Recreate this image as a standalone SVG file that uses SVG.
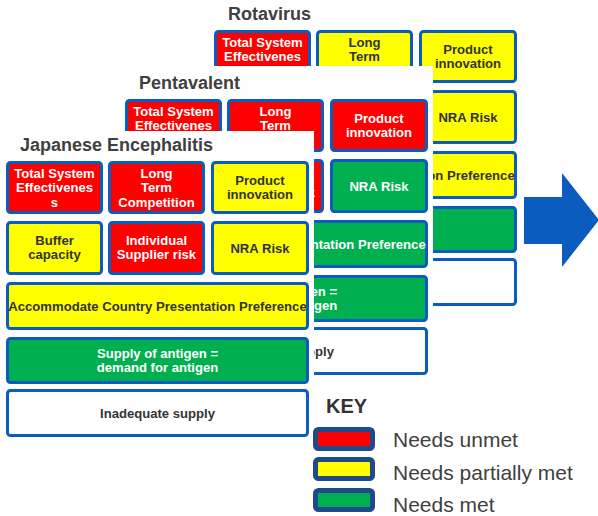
<svg xmlns="http://www.w3.org/2000/svg" width="598" height="516" viewBox="0 0 598 516">
  <style>
    .panel { fill: #ffffff; }
    .box { stroke: #0a5cbe; stroke-width: 3; }
    .red { fill: #ff0000; }
    .yel { fill: #ffff00; }
    .grn { fill: #00b050; }
    .wht { fill: #ffffff; }
    .t { font-family: "Liberation Sans", Arial, sans-serif; font-weight: bold; font-size: 13.1px; text-anchor: middle; }
    .dk { fill: #333333; }
    .lt { fill: #ffffff; }
    .title { font-family: "Liberation Sans", Arial, sans-serif; font-weight: bold; font-size: 18px; fill: #404040; }
    .key-title { font-family: "Liberation Sans", Arial, sans-serif; font-weight: bold; font-size: 20px; fill: #333333; }
    .key-label { font-family: "Liberation Sans", Arial, sans-serif; font-size: 21px; fill: #404040; }
    .swatch { stroke: #1f4a8a; stroke-width: 5; }
    .arrow { fill: #0a5cbe; }
  </style>

  <!-- Back sheet: Rotavirus (only the parts left uncovered by the sheets in front carry labels) -->
  <g id="sheet-rotavirus" transform="translate(208,-131)">
    <rect class="panel" x="0" y="131" width="314" height="312"/>
    <text class="title" x="20" y="151">Rotavirus</text>
    <g id="rota-total-system">
      <rect class="box red" x="7.5" y="162.5" width="94" height="50" rx="3"/>
      <text class="t lt"><tspan x="54.5" y="177.5">Total System</tspan><tspan x="54.5" y="192">Effectivenes</tspan></text>
    </g>
    <g id="rota-long-term">
      <rect class="box yel" x="109.5" y="162.5" width="94" height="50" rx="3"/>
      <text class="t dk"><tspan x="156.5" y="177.5">Long</tspan><tspan x="156.5" y="192">Term</tspan></text>
    </g>
    <g id="rota-product-innovation">
      <rect class="box yel" x="212.5" y="162.5" width="95" height="50" rx="3"/>
      <text class="t dk"><tspan x="260" y="184.75">Product</tspan><tspan x="260" y="199.25">innovation</tspan></text>
    </g>
    <g id="rota-nra-risk">
      <rect class="box yel" x="212.5" y="222.5" width="95" height="51" rx="3"/>
      <text class="t dk" x="260" y="252.5">NRA Risk</text>
    </g>
    <g id="rota-presentation">
      <rect class="box yel" x="7.5" y="283.5" width="300" height="45" rx="3"/>
      <text class="t dk" x="157.5" y="310.5">Accommodate Country Presentation Preference</text>
    </g>
    <g id="rota-supply">
      <rect class="box grn" x="7.5" y="338.5" width="300" height="44" rx="3"/>
    </g>
    <g id="rota-inadequate">
      <rect class="box wht" x="7.5" y="390.5" width="300" height="45" rx="3"/>
    </g>
  </g>

  <!-- Middle sheet: Pentavalent -->
  <g id="sheet-pentavalent" transform="translate(119,-62)">
    <rect class="panel" x="0" y="128" width="314" height="315"/>
    <text class="title" x="20" y="151">Pentavalent</text>
    <g id="penta-total-system">
      <rect class="box red" x="7.5" y="162.5" width="94" height="50" rx="3"/>
      <text class="t lt"><tspan x="54.5" y="177.5">Total System</tspan><tspan x="54.5" y="192">Effectivenes</tspan></text>
    </g>
    <g id="penta-long-term">
      <rect class="box red" x="109.5" y="162.5" width="94" height="50" rx="3"/>
      <text class="t lt"><tspan x="156.5" y="177.5">Long</tspan><tspan x="156.5" y="192">Term</tspan></text>
    </g>
    <g id="penta-product-innovation">
      <rect class="box red" x="212.5" y="162.5" width="95" height="50" rx="3"/>
      <text class="t lt"><tspan x="260" y="184.75">Product</tspan><tspan x="260" y="199.25">innovation</tspan></text>
    </g>
    <g id="penta-supplier-risk">
      <rect class="box red" x="109.5" y="222.5" width="94" height="51" rx="3"/>
      <text class="t lt" x="156.5" y="259.25">Supplier risk</text>
    </g>
    <g id="penta-nra-risk">
      <rect class="box grn" x="212.5" y="222.5" width="95" height="51" rx="3"/>
      <text class="t lt" x="260" y="252.5">NRA Risk</text>
    </g>
    <g id="penta-presentation">
      <rect class="box grn" x="7.5" y="283.5" width="300" height="45" rx="3"/>
      <text class="t lt" x="157.5" y="310.5">Accommodate Country Presentation Preference</text>
    </g>
    <g id="penta-supply">
      <rect class="box grn" x="7.5" y="338.5" width="300" height="44" rx="3"/>
      <text class="t lt"><tspan x="157.5" y="357.75">Supply of antigen =</tspan><tspan x="157.5" y="372.25">demand for antigen</tspan></text>
    </g>
    <g id="penta-inadequate">
      <rect class="box wht" x="7.5" y="390.5" width="300" height="45" rx="3"/>
      <text class="t dk" x="157.5" y="417.5">Inadequate supply</text>
    </g>
  </g>

  <!-- Front sheet: Japanese Encephalitis -->
  <g id="sheet-je">
    <rect class="panel" x="0" y="131" width="314" height="312"/>
    <text class="title" x="20" y="151">Japanese Encephalitis</text>
    <g id="je-total-system">
      <rect class="box red" x="7.5" y="162.5" width="94" height="50" rx="3"/>
      <text class="t lt"><tspan x="54.5" y="177.5">Total System</tspan><tspan x="54.5" y="192">Effectivenes</tspan><tspan x="54.5" y="206.5">s</tspan></text>
    </g>
    <g id="je-long-term">
      <rect class="box red" x="109.5" y="162.5" width="94" height="50" rx="3"/>
      <text class="t lt"><tspan x="156.5" y="177.5">Long</tspan><tspan x="156.5" y="192">Term</tspan><tspan x="156.5" y="206.5">Competition</tspan></text>
    </g>
    <g id="je-product-innovation">
      <rect class="box yel" x="212.5" y="162.5" width="95" height="50" rx="3"/>
      <text class="t dk"><tspan x="260" y="184.75">Product</tspan><tspan x="260" y="199.25">innovation</tspan></text>
    </g>
    <g id="je-buffer">
      <rect class="box yel" x="7.5" y="222.5" width="94" height="51" rx="3"/>
      <text class="t dk"><tspan x="54.5" y="244.75">Buffer</tspan><tspan x="54.5" y="259.25">capacity</tspan></text>
    </g>
    <g id="je-supplier-risk">
      <rect class="box red" x="109.5" y="222.5" width="94" height="51" rx="3"/>
      <text class="t lt"><tspan x="156.5" y="244.75">Individual</tspan><tspan x="156.5" y="259.25">Supplier risk</tspan></text>
    </g>
    <g id="je-nra-risk">
      <rect class="box yel" x="212.5" y="222.5" width="95" height="51" rx="3"/>
      <text class="t dk" x="260" y="252.5">NRA Risk</text>
    </g>
    <g id="je-presentation">
      <rect class="box yel" x="7.5" y="283.5" width="300" height="45" rx="3"/>
      <text class="t dk" x="157.5" y="310.5">Accommodate Country Presentation Preference</text>
    </g>
    <g id="je-supply">
      <rect class="box grn" x="7.5" y="338.5" width="300" height="44" rx="3"/>
      <text class="t lt"><tspan x="157.5" y="357.75">Supply of antigen =</tspan><tspan x="157.5" y="372.25">demand for antigen</tspan></text>
    </g>
    <g id="je-inadequate">
      <rect class="box wht" x="7.5" y="390.5" width="300" height="45" rx="3"/>
      <text class="t dk" x="157.5" y="417.5">Inadequate supply</text>
    </g>
  </g>

  <!-- Block arrow pointing right -->
  <g id="connectors">
    <polygon class="arrow" points="524,197 562,197 562,173 599,220 562,267 562,244 524,244"/>
  </g>

  <!-- Legend -->
  <g id="key">
    <text class="key-title" x="326" y="413">KEY</text>
    <rect class="swatch red" x="315.5" y="429.5" width="57" height="19" rx="3"/>
    <text class="key-label" x="393" y="447">Needs unmet</text>
    <rect class="swatch yel" x="315.5" y="459.5" width="57" height="19" rx="3"/>
    <text class="key-label" x="393" y="480">Needs partially met</text>
    <rect class="swatch grn" x="315.5" y="490.5" width="57" height="19" rx="3"/>
    <text class="key-label" x="393" y="512">Needs met</text>
  </g>
</svg>
